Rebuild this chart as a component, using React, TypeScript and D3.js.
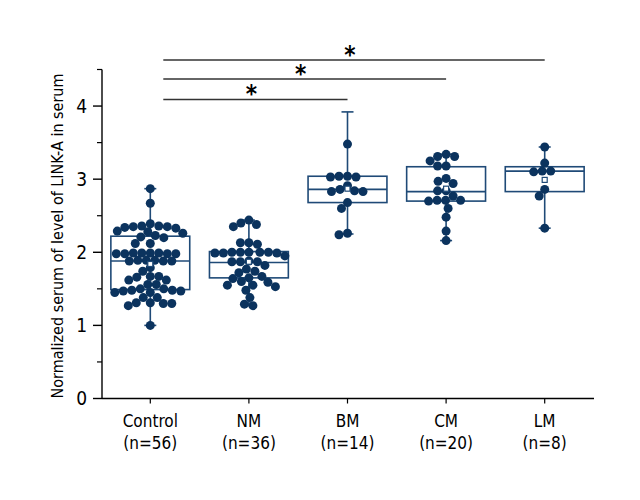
import * as d3 from 'd3';

const groups = ['Control', 'NM', 'BM', 'CM', 'LM'];
const counts = [56, 36, 14, 20, 8];

// box statistics
const q1 = [1.49, 1.65, 2.68, 2.7, 2.83];
const medians = [1.88, 1.86, 2.86, 2.83, 3.11];
const q3 = [2.22, 2.01, 3.04, 3.17, 3.17];
const whiskerLow = [1.0, 1.27, 2.25, 2.16, 2.33];
const whiskerHigh = [2.87, 2.44, 3.92, 3.34, 3.44];
const means = [1.84, 1.87, 2.87, 2.87, 2.99];

const controlValues = [
  2.87, 2.67, 2.39, 2.36, 2.35, 2.34, 2.35, 2.33, 2.36, 2.29, 2.26, 2.21, 2.28, 2.2,
  2.23, 2.12, 2.12, 1.98, 1.98, 1.98, 1.99, 1.99, 1.98, 1.99, 1.99, 1.89, 1.89, 1.89,
  1.88, 1.88, 1.88, 1.79, 1.74, 1.67, 1.67, 1.66, 1.62, 1.62, 1.56, 1.56, 1.5, 1.5,
  1.48, 1.47, 1.48, 1.47, 1.45, 1.45, 1.38, 1.38, 1.27, 1.31, 1.31, 1.3, 1.3, 1.0,
];
const nmValues = [
  2.44, 2.38, 2.4, 2.35, 2.13, 2.11, 2.13, 2.0, 2.0, 1.99, 2.0, 1.99, 2.0, 1.99, 2.0,
  1.95, 1.87, 1.87, 1.87, 1.88, 1.82, 1.74, 1.77, 1.72, 1.65, 1.67, 1.64, 1.59, 1.6,
  1.53, 1.55, 1.55, 1.48, 1.38, 1.27, 1.29,
];
const bmValues = [3.48, 3.04, 3.03, 3.03, 3.04, 2.86, 2.91, 2.83, 2.83, 2.84, 2.68, 2.6, 2.24, 2.26];
const cmValues = [
  3.34, 3.25, 3.31, 3.31, 3.18, 3.18, 2.97, 2.94, 3.01, 2.84, 2.84, 2.77, 2.71, 2.71,
  2.7, 2.71, 2.6, 2.48, 2.29, 2.16,
];
const lmValues = [3.44, 3.22, 3.11, 3.1, 3.11, 2.86, 2.77, 2.33];
const groupValues = [controlValues, nmValues, bmValues, cmValues, lmValues];

const yTicks = [0, 1, 2, 3, 4];
const yMinorTicks = [0.5, 1.5, 2.5, 3.5, 4.5];

// significance brackets: Control vs target, at a given height
const sigTargets = ['BM', 'CM', 'LM'];
const sigLevels = [4.09, 4.37, 4.63];

const W = 640;
const H = 500;
const LEFT = 102;
const RIGHT = 594;
const Y0 = 398.5;
const Y_TOP = 69.5;
const NAVY = '#0b335e';
const BOX = '#1f4a77';
const R = 4.5;
const FONT = '"Liberation Sans Narrow", "DejaVu Sans Condensed", "Roboto Condensed", sans-serif';

function swarm(values: number[], cx: number, y: d3.ScaleLinear<number, number>) {
  const pts = values.map(v => ({ v, y: y(v), x: cx })).sort((a, b) => a.y - b.y);
  const placed: { x: number; y: number }[] = [];
  const d = R * 1.85;
  for (const p of pts) {
    for (let k = 0; k < 400; k++) {
      const off = (k % 2 === 0 ? 1 : -1) * Math.ceil(k / 2) * 0.5;
      const x = cx + off;
      const hit = placed.some(q => (q.x - x) ** 2 + (q.y - p.y) ** 2 < d * d);
      if (!hit) {
        p.x = x;
        break;
      }
    }
    placed.push({ x: p.x, y: p.y });
  }
  return pts;
}

export default function App() {
  const x = d3.scaleBand<string>().domain(groups).range([LEFT - 1, RIGHT]).paddingInner(0.2).paddingOuter(0.1);
  const y = d3.scaleLinear().domain([0, 4.5]).range([Y0, Y_TOP]);
  const bw = x.bandwidth();
  const cx = (g: string) => (x(g) ?? 0) + bw / 2;
  const sigStart = cx('Control') + 13;

  return (
    <svg width={W} height={H} style={{ position: 'absolute', left: 0, top: 0 }} fontFamily={FONT}>
      <rect width={W} height={H} fill="#fff" />

      {/* y axis */}
      <line x1={LEFT} x2={LEFT} y1={Y_TOP} y2={Y0} stroke="#000" strokeWidth={1.4} />
      {yTicks.map(t => (
        <g key={t}>
          <line x1={LEFT - 9} x2={LEFT} y1={y(t)} y2={y(t)} stroke="#000" strokeWidth={1.4} />
          <text x={LEFT - 15} y={y(t)} dy="0.35em" textAnchor="end" fontSize={19}>{t}</text>
        </g>
      ))}
      {yMinorTicks.map(t => (
        <line key={t} x1={LEFT - 5} x2={LEFT} y1={y(t)} y2={y(t)} stroke="#000" strokeWidth={1.2} />
      ))}
      <text
        transform={`translate(57,${(Y0 + Y_TOP) / 2 + 2}) rotate(-90)`}
        textAnchor="middle"
        dy="0.35em"
        fontSize={16}
      >
        Normalized serum of level of LINK-A in serum
      </text>

      {/* x axis */}
      <line x1={LEFT} x2={RIGHT} y1={Y0} y2={Y0} stroke="#000" strokeWidth={1.4} />
      {groups.map((g, i) => (
        <g key={g}>
          <line x1={cx(g)} x2={cx(g)} y1={Y0} y2={Y0 + 5} stroke="#000" strokeWidth={1.2} />
          <text x={cx(g)} y={427} textAnchor="middle" fontSize={17}>{g}</text>
          <text x={cx(g)} y={449} textAnchor="middle" fontSize={17}>(n={counts[i]})</text>
        </g>
      ))}

      {/* boxes */}
      {groups.map((g, i) => {
        const c = cx(g);
        const x0 = x(g) ?? 0;
        return (
          <g key={g} stroke={BOX} strokeWidth={1.6} fill="none">
            <line x1={c} x2={c} y1={y(whiskerHigh[i])} y2={y(q3[i])} />
            <line x1={c} x2={c} y1={y(q1[i])} y2={y(whiskerLow[i])} />
            <line x1={c - 6} x2={c + 6} y1={y(whiskerHigh[i])} y2={y(whiskerHigh[i])} />
            <line x1={c - 6} x2={c + 6} y1={y(whiskerLow[i])} y2={y(whiskerLow[i])} />
            <rect x={x0} y={y(q3[i])} width={bw} height={y(q1[i]) - y(q3[i])} />
            <line x1={x0} x2={x0 + bw} y1={y(medians[i])} y2={y(medians[i])} />
          </g>
        );
      })}

      {/* points */}
      {groups.map((g, i) => (
        <g key={g} fill={NAVY}>
          {swarm(groupValues[i], cx(g), y).map((p, j) => (
            <circle key={j} cx={p.x} cy={p.y} r={R} />
          ))}
        </g>
      ))}

      {/* means */}
      {groups.map((g, i) => (
        <rect key={g} x={cx(g) - 2.5} y={y(means[i]) - 2.5} width={5} height={5} fill="#fff" stroke={BOX} strokeWidth={1.2} />
      ))}

      {/* significance */}
      {sigTargets.map((t, i) => {
        const x2 = cx(t);
        const yy = y(sigLevels[i]);
        return (
          <g key={t}>
            <line x1={sigStart} x2={x2} y1={yy} y2={yy} stroke="#333" strokeWidth={1.6} />
            <text x={(sigStart + x2) / 2 - 4} y={yy - 14} dy="0.7em" textAnchor="middle" fontSize={24} fontWeight="bold">*</text>
          </g>
        );
      })}
    </svg>
  );
}
